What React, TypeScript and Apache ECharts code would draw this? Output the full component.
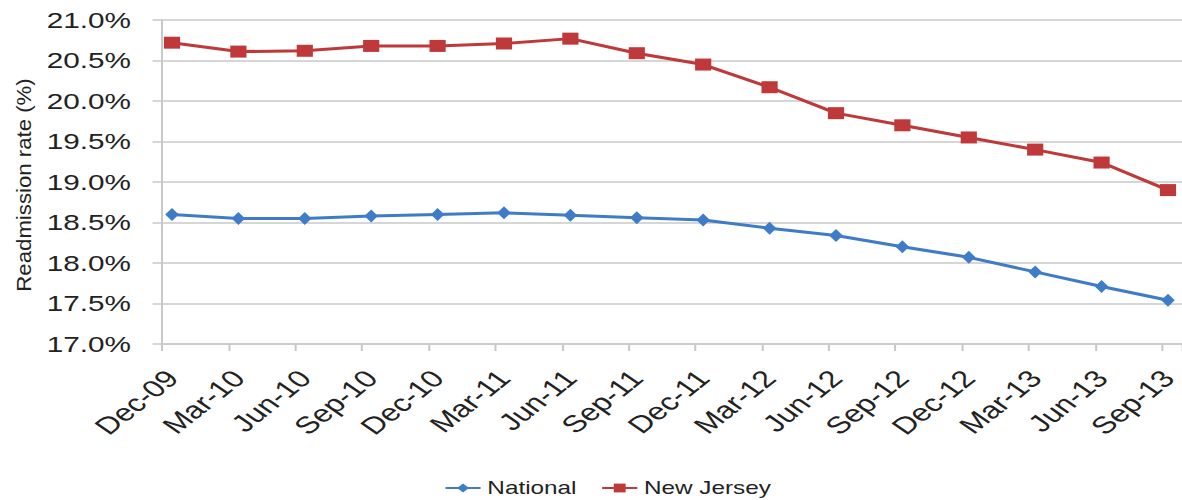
import React, { useEffect, useRef } from "react";
import * as echarts from "echarts";

// Quarter labels along the horizontal axis
const quarters = [
  "Dec-09", "Mar-10", "Jun-10", "Sep-10", "Dec-10", "Mar-11", "Jun-11", "Sep-11",
  "Dec-11", "Mar-12", "Jun-12", "Sep-12", "Dec-12", "Mar-13", "Jun-13", "Sep-13",
];

// 30-day readmission rates (%)
const nationalRates = [
  18.60, 18.55, 18.55, 18.58, 18.60, 18.62, 18.59, 18.56,
  18.53, 18.43, 18.34, 18.20, 18.07, 17.89, 17.71, 17.54,
];
const newJerseyRates = [
  20.72, 20.61, 20.62, 20.68, 20.68, 20.71, 20.77, 20.59,
  20.45, 20.17, 19.85, 19.70, 19.55, 19.40, 19.24, 18.90,
];

const yMin = 17;
const yMax = 21;
const yStep = 0.5;

// The whole drawing is laid out narrow and then widened horizontally.
const STRETCH = 1.35;
const BASE_W = 876;
const BASE_H = 500;

const FONT = "'Liberation Sans', Arial, Helvetica, sans-serif";
const GRID_COLOR = "#c8c8c8";
const TEXT_COLOR = "#222222";
const BLUE = "#3f7cc8";
const RED = "#c0393a";

export default function App() {
  const ref = useRef<HTMLDivElement | null>(null);

  useEffect(() => {
    if (!ref.current) return;
    const chart = echarts.init(ref.current, undefined, { renderer: "svg" });

    // Frame grid: axis line, ticks and gridlines
    const frameLeft = 120;
    const tickStep = 49.38;
    const frameMax = (BASE_W - frameLeft) / tickStep;
    // Data grid: points sit a little to the right of each tick
    const dataLeft = 127.4;
    const dataWidth = tickStep * (quarters.length - 1);

    chart.setOption({
      animation: false,
      backgroundColor: "#ffffff",
      textStyle: { fontFamily: FONT },
      grid: [
        { left: frameLeft, right: 0, top: 20, height: 324, containLabel: false },
        { left: dataLeft, width: dataWidth, top: 20, height: 324, containLabel: false },
      ],
      xAxis: [
        {
          type: "value",
          gridIndex: 0,
          min: 0,
          max: frameMax,
          interval: 1,
          axisLine: { show: true, lineStyle: { color: GRID_COLOR, width: 1.5 } },
          axisTick: { show: true, length: 7, lineStyle: { color: GRID_COLOR, width: 1.5 } },
          axisLabel: { show: false },
          splitLine: { show: false },
        },
        {
          type: "category",
          gridIndex: 1,
          data: quarters,
          boundaryGap: false,
          axisLine: { show: false },
          axisTick: { show: false },
          splitLine: { show: false },
          axisLabel: {
            interval: 0,
            rotate: 47,
            margin: 30,
            fontSize: 24,
            color: TEXT_COLOR,
            fontFamily: FONT,
          },
        },
      ],
      yAxis: [
        {
          type: "value",
          gridIndex: 0,
          min: yMin,
          max: yMax,
          interval: yStep,
          axisLine: { show: true, lineStyle: { color: GRID_COLOR, width: 1.5 } },
          axisTick: { show: true, length: 7, lineStyle: { color: GRID_COLOR, width: 1.5 } },
          splitLine: { show: true, lineStyle: { color: GRID_COLOR, width: 1.5 } },
          axisLabel: {
            margin: 23,
            fontSize: 22,
            color: TEXT_COLOR,
            fontFamily: FONT,
            formatter: (v: number) => v.toFixed(1) + "%",
          },
        },
        {
          type: "value",
          gridIndex: 1,
          min: yMin,
          max: yMax,
          show: false,
          splitLine: { show: false },
        },
      ],
      legend: {
        left: 324,
        top: 474,
        itemWidth: 26,
        itemHeight: 11,
        itemGap: 18,
        textStyle: { fontSize: 18, color: TEXT_COLOR, fontFamily: FONT },
        data: ["National", "New Jersey"],
      },
      graphic: [
        {
          type: "text",
          x: 17.8,
          y: 185,
          rotation: Math.PI / 2,
          scaleX: 1.48,
          style: {
            text: "Readmission rate (%)",
            fontSize: 15,
            fontFamily: FONT,
            fill: TEXT_COLOR,
            align: "center",
            verticalAlign: "middle",
            textAlign: "center",
            textVerticalAlign: "middle",
          },
        },
      ],
      series: [
        {
          name: "National",
          type: "line",
          xAxisIndex: 1,
          yAxisIndex: 1,
          data: nationalRates,
          symbol: "diamond",
          symbolSize: [10, 13],
          showAllSymbol: true,
          lineStyle: { color: BLUE, width: 3 },
          itemStyle: { color: BLUE },
        },
        {
          name: "New Jersey",
          type: "line",
          xAxisIndex: 1,
          yAxisIndex: 1,
          data: newJerseyRates,
          symbol: "rect",
          symbolSize: [12, 12],
          showAllSymbol: true,
          lineStyle: { color: RED, width: 3 },
          itemStyle: { color: RED },
        },
      ],
    });

    return () => {
      chart.dispose();
    };
  }, []);

  return (
    <div
      style={{
        position: "absolute",
        left: 0,
        top: 0,
        width: 1182,
        height: BASE_H,
        overflow: "hidden",
        background: "#ffffff",
      }}
    >
      <div
        ref={ref}
        style={{
          width: BASE_W,
          height: BASE_H,
          transform: `scaleX(${STRETCH})`,
          transformOrigin: "0 0",
        }}
      />
    </div>
  );
}
